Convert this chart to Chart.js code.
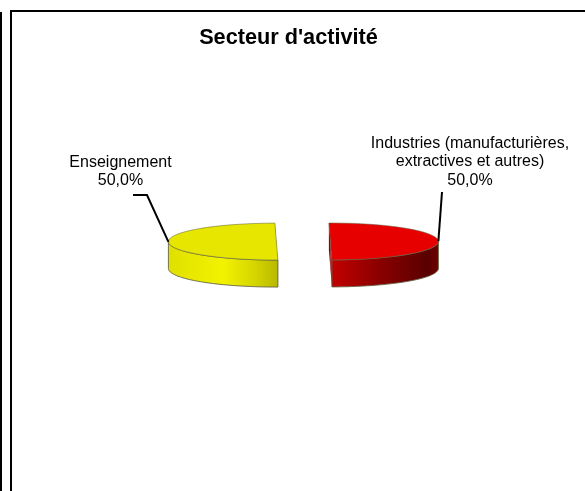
<!DOCTYPE html>
<html><head><meta charset="utf-8">
<style>html,body{margin:0;padding:0;background:#fff;overflow:hidden}canvas{display:block}</style>
<script src="https://cdn.jsdelivr.net/npm/chart.js@4/dist/chart.umd.min.js"></script>
</head><body><canvas id="c" width="585" height="491"></canvas>
<script>
const titleText = "Secteur d'activité";
const categories = ['Industries (manufacturières, extractives et autres)', 'Enseignement'];
const labelLines = [['Industries (manufacturières,', 'extractives et autres)'], ['Enseignement']];
const shares = [50, 50];
const topColors = ['#e60000', '#e6e600'];
const wallStops = [
  [[0, '#c20000'], [0.45, '#8a0000'], [0.9, '#5a0000'], [1, '#6e0000']],
  [[0, '#e0e000'], [0.5, '#f2f200'], [0.8, '#d4d400'], [1, '#b8b800']]
];
const cutWallColor = ['#8c0000', '#b8b800'];
const edgeColor = 'rgba(100,100,70,.9)';

const SQUASH = 0.171, DEPTH = 27, SHIFT_X = 14.9, EXPLODE = 27;
const labelBoxes = [{x: 470, y: 143.5, step: 18.5}, {x: 120.5, y: 162.5, step: 18.5}];
const leaders = [[[442, 192]], [[147, 195], [133, 195]]];

const pie3d = {
  id: 'pie3d',
  beforeDraw(chart) {
    const c = chart.ctx;
    c.save();
    c.fillStyle = '#fff';
    c.fillRect(0, 0, chart.width, chart.height);
    c.fillStyle = '#000';
    c.fillRect(10, 10, chart.width - 10, 2);
    c.fillRect(10, 10, 2, chart.height - 10);
    c.fillRect(0, 12, 2, chart.height - 12);
    c.restore();
  },
  afterDatasetsUpdate(chart) {
    // pull the slices apart from the centre the library computed
    chart.getDatasetMeta(0).data.forEach(a => {
      const mid = (a.startAngle + a.endAngle) / 2;
      a.x += SHIFT_X + Math.cos(mid) * EXPLODE;
      a.y += Math.sin(mid) * EXPLODE;
    });
  },
  beforeDatasetsDraw(chart) {
    const c = chart.ctx;
    const arcs = chart.getDatasetMeta(0).data;
    const cy = (chart.chartArea.top + chart.chartArea.bottom) / 2;
    const sy = y => cy + (y - cy) * SQUASH;
    const tip = (a, ang) => ({
      x: a.x + Math.cos(ang) * a.outerRadius,
      y: sy(a.y + Math.sin(ang) * a.outerRadius)
    });
    arcs.forEach((a, i) => {
      const p0 = tip(a, a.startAngle), p1 = tip(a, a.endAngle);
      const center = {x: a.x, y: sy(a.y)};
      // straight cut faces
      c.fillStyle = cutWallColor[i];
      [p0, p1].forEach(p => {
        c.beginPath();
        c.moveTo(p.x, p.y); c.lineTo(center.x, center.y);
        c.lineTo(center.x, center.y + DEPTH); c.lineTo(p.x, p.y + DEPTH);
        c.closePath(); c.fill();
      });
      // curved front wall
      const lo = Math.max(a.startAngle, 0);
      const hi = Math.min(a.endAngle, Math.PI);
      const pts = [];
      for (let k = 0; k <= 60; k++) pts.push(tip(a, lo + (hi - lo) * k / 60));
      const xs = pts.map(p => p.x);
      const g = c.createLinearGradient(Math.min(...xs), 0, Math.max(...xs), 0);
      wallStops[i].forEach(st => g.addColorStop(st[0], st[1]));
      c.beginPath();
      pts.forEach((p, k) => k ? c.lineTo(p.x, p.y) : c.moveTo(p.x, p.y));
      pts.slice().reverse().forEach(p => c.lineTo(p.x, p.y + DEPTH));
      c.closePath();
      c.fillStyle = g;
      c.fill();
      c.strokeStyle = edgeColor;
      c.lineWidth = 1;
      c.stroke();
    });
    c.save();
    c.translate(0, cy);
    c.scale(1, SQUASH);
    c.translate(0, -cy);
  },
  afterDatasetsDraw(chart) {
    const c = chart.ctx;
    c.restore();
    const cy = (chart.chartArea.top + chart.chartArea.bottom) / 2;
    chart.getDatasetMeta(0).data.forEach((a, i) => {
      const mid = (a.startAngle + a.endAngle) / 2;
      const ex = a.x + Math.cos(mid) * a.outerRadius;
      const ey = cy + (a.y + Math.sin(mid) * a.outerRadius - cy) * SQUASH;
      c.beginPath();
      c.moveTo(ex, ey);
      leaders[i].forEach(p => c.lineTo(p[0], p[1]));
      c.strokeStyle = '#000';
      c.lineWidth = 2;
      c.stroke();
      const lines = labelLines[i].concat(shares[i].toFixed(1).replace('.', ',') + '%');
      const box = labelBoxes[i];
      c.fillStyle = '#000';
      c.font = '16px "Liberation Sans", Arial, sans-serif';
      c.textAlign = 'center';
      c.textBaseline = 'middle';
      lines.forEach((t, k) => c.fillText(t, box.x, box.y + k * box.step));
    });
  }
};

new Chart(document.getElementById('c'), {
  type: 'pie',
  data: {
    labels: categories,
    datasets: [{
      data: shares,
      backgroundColor: topColors,
      borderColor: edgeColor,
      borderWidth: 1,
      clip: false
    }]
  },
  options: {
    responsive: false,
    animation: false,
    events: [],
    rotation: -0.8,
    radius: 108,
    layout: {padding: {right: 8, bottom: 59.5}},
    plugins: {
      legend: {display: false},
      tooltip: {enabled: false},
      title: {
        display: true,
        text: titleText,
        color: '#000',
        font: {family: '"Liberation Sans", Arial, sans-serif', size: 21.7, weight: 'bold'},
        padding: {top: 25.5, bottom: 0}
      }
    }
  },
  plugins: [pie3d]
});
</script></body></html>
